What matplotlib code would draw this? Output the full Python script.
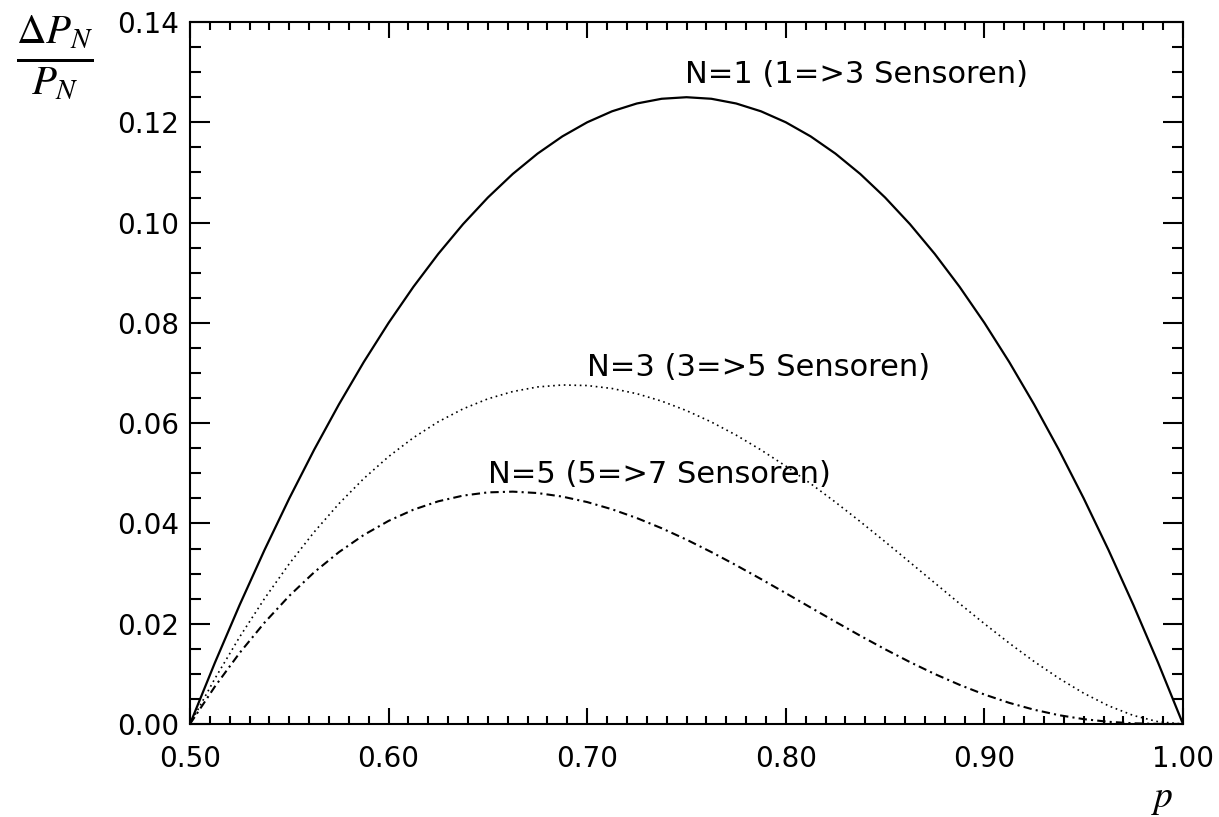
import matplotlib
matplotlib.use("Agg")
import matplotlib.pyplot as plt
from matplotlib.ticker import MultipleLocator, FormatStrFormatter

# p values (steps of 0.0125)
p = [0.5000, 0.5125, 0.5250, 0.5375, 0.5500, 0.5625, 0.5750, 0.5875, 0.6000, 0.6125,
     0.6250, 0.6375, 0.6500, 0.6625, 0.6750, 0.6875, 0.7000, 0.7125, 0.7250, 0.7375,
     0.7500, 0.7625, 0.7750, 0.7875, 0.8000, 0.8125, 0.8250, 0.8375, 0.8500, 0.8625,
     0.8750, 0.8875, 0.9000, 0.9125, 0.9250, 0.9375, 0.9500, 0.9625, 0.9750, 0.9875,
     1.0000]

# relative gain, N=1 (1=>3 Sensoren)
n1 = [0.0, 0.01219, 0.02375, 0.03469, 0.04500, 0.05469, 0.06375, 0.07219, 0.08000, 0.08719,
      0.09375, 0.09969, 0.10500, 0.10969, 0.11375, 0.11719, 0.12000, 0.12219, 0.12375, 0.12469,
      0.12500, 0.12469, 0.12375, 0.12219, 0.12000, 0.11719, 0.11375, 0.10969, 0.10500, 0.09969,
      0.09375, 0.08719, 0.08000, 0.07219, 0.06375, 0.05469, 0.04500, 0.03469, 0.02375, 0.01219,
      0.0]

# N=3 (3=>5 Sensoren)
n3 = [0.0, 0.00903, 0.01736, 0.02500, 0.03197, 0.03828, 0.04394, 0.04895, 0.05333, 0.05710,
      0.06027, 0.06285, 0.06485, 0.06630, 0.06722, 0.06761, 0.06750, 0.06691, 0.06587, 0.06439,
      0.06250, 0.06023, 0.05761, 0.05466, 0.05143, 0.04794, 0.04424, 0.04036, 0.03635, 0.03225,
      0.02813, 0.02402, 0.02000, 0.01613, 0.01247, 0.00912, 0.00614, 0.00363, 0.00170, 0.00045,
      0.0]

# N=5 (5=>7 Sensoren)
n5 = [0.0, 0.00745, 0.01418, 0.02021, 0.02556, 0.03025, 0.03428, 0.03770, 0.04051, 0.04274,
      0.04441, 0.04555, 0.04619, 0.04634, 0.04606, 0.04535, 0.04426, 0.04282, 0.04107, 0.03904,
      0.03677, 0.03429, 0.03166, 0.02891, 0.02609, 0.02323, 0.02039, 0.01760, 0.01491, 0.01235,
      0.00997, 0.00781, 0.00588, 0.00422, 0.00285, 0.00176, 0.00097, 0.00044, 0.00014, 0.00002,
      0.0]

labels = ["N=1 (1=>3 Sensoren)", "N=3 (3=>5 Sensoren)", "N=5 (5=>7 Sensoren)"]

plt.rcParams['font.family'] = ['DejaVu Sans']
plt.rcParams['mathtext.fontset'] = 'stix'

fig = plt.figure(figsize=(12.19, 8.17), dpi=100)
ax = fig.add_axes([190/1219, 1 - 724/817, 993/1219, 702/817])

ax.plot(p, n1, color='black', lw=1.6, linestyle='-')
ax.plot(p, n3, color='black', lw=1.2, linestyle=(0, (1, 2.2)))
ax.plot(p, n5, color='black', lw=1.5, linestyle=(0, (4, 2, 1, 2)))

ax.text(0.749, 0.1278, labels[0], fontsize=22)
ax.text(0.700, 0.0694, labels[1], fontsize=22)
ax.text(0.650, 0.0481, labels[2], fontsize=22)

ax.set_xlim(0.5, 1.0)
ax.set_ylim(0.0, 0.14)
ax.xaxis.set_major_locator(MultipleLocator(0.1))
ax.xaxis.set_minor_locator(MultipleLocator(0.01))
ax.yaxis.set_major_locator(MultipleLocator(0.02))
ax.yaxis.set_minor_locator(MultipleLocator(0.005))
ax.xaxis.set_major_formatter(FormatStrFormatter('%.2f'))
ax.yaxis.set_major_formatter(FormatStrFormatter('%.2f'))

ax.tick_params(which='both', direction='in', top=True, right=True, width=1.5, labelsize=20)
ax.tick_params(axis='x', which='major', length=11.5, pad=15)
ax.tick_params(axis='x', which='minor', length=5.5)
ax.tick_params(axis='y', which='major', length=14.5, pad=8)
ax.tick_params(axis='y', which='minor', length=8)
for s in ax.spines.values():
    s.set_linewidth(1.5)

fig.text(55/1219, 1 - 58/817, r'$\frac{\Delta P_N}{P_N}$', fontsize=42, ha='center', va='center')
fig.text(1162/1219, 1 - 799/817, r'$p$', fontsize=27, ha='center', va='center')

fig.savefig('out.png', dpi=100)
